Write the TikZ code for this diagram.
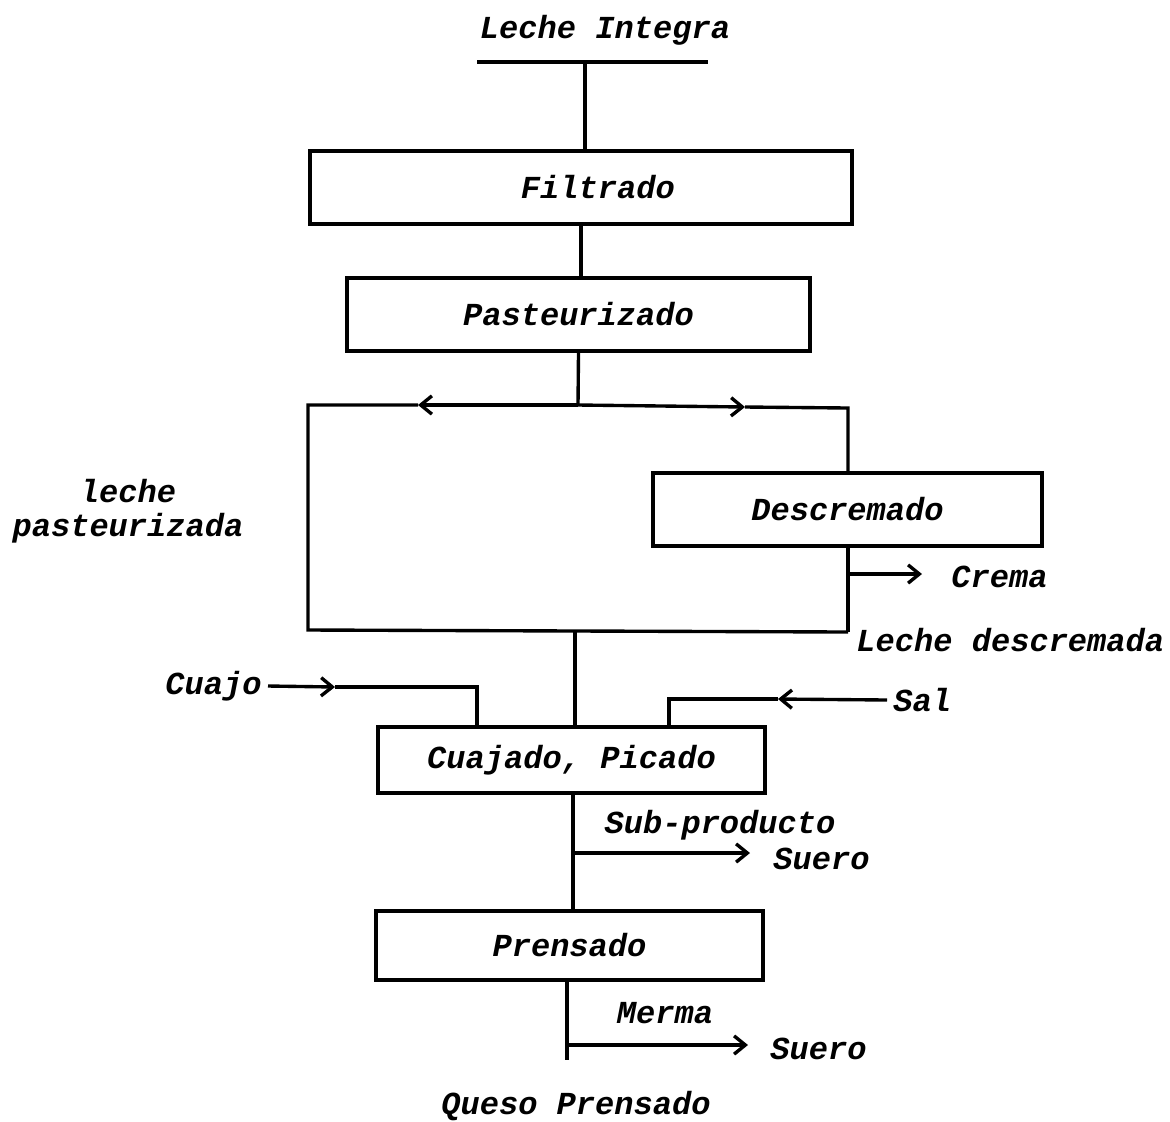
\documentclass[tikz,border=0pt]{standalone}
\usepackage{fontspec}
\setmonofont{Liberation Mono}
\usetikzlibrary{arrows.meta}

\tikzset{
  paso/.style={draw, line width=2.6pt, inner sep=0pt},
  flujo/.style={-{Straight Barb[length=8pt,width=13pt,line width=2.4pt]}},
}

\begin{document}
\begin{tikzpicture}[x=0.025cm, y=-0.025cm, line width=2.4pt,
    every node/.style={font=\ttfamily\bfseries\itshape\fontsize{22.8}{24}\selectfont}]
  \useasboundingbox (0,0) rectangle (1170,1121);

  % entrada
  \node (entrada) at (605,30) {Leche Integra};
  \coordinate (ti) at (477,62);
  \coordinate (td) at (708,62);
  \coordinate (tm) at (585,62);
  \draw (ti) -- (td);

  % etapas del proceso
  \node[paso, minimum width=13.55cm, minimum height=1.825cm] (filt) at (581,187.5) {\hspace*{24pt}Filtrado};
  \node[paso, minimum width=11.575cm, minimum height=1.825cm] (past) at (578.5,314.5) {Pasteurizado};
  \node[paso, minimum width=9.725cm, minimum height=1.825cm] (desc) at (847.5,509.5) {Descremado};
  \node[paso, minimum width=9.675cm, minimum height=1.65cm] (cuaj) at (571.5,760) {Cuajado, Picado};
  \node[paso, minimum width=9.675cm, minimum height=1.725cm] (pren) at (569.5,945.5) {Prensado};

  \draw (tm) -- (tm |- filt.north);
  \draw (filt.south) -- (filt.south |- past.north);

  % reparto de la leche pasteurizada
  \coordinate (split) at (578,405);
  \coordinate (ltip) at (418,405);
  \coordinate (lt) at (308,405);
  \coordinate (lb) at (308,630);
  \coordinate (rtip) at (745,407);
  \coordinate (rt) at (848,408);
  \coordinate (rb) at (848,632);
  \coordinate (join) at (575,631);
  \draw (past.south) -- (split);
  \draw[flujo] (split) -- (ltip);
  \draw (ltip) -- (lt) -- (lb) -- (rb);
  \draw[flujo] (split) -- (rtip);
  \draw (rtip) -- (rt) -- (rt |- desc.north);
  \draw (desc.south -| rt) -- (rb);

  \node[align=center] (lpast) at (128,511) {leche\\pasteurizada};

  % crema
  \coordinate (crema0) at (848,574);
  \coordinate (cremaflecha) at (922,574);
  \draw[flujo] (crema0) -- (cremaflecha);
  \node[anchor=west] (crema) at (945,577) {Crema};
  \node[anchor=west] (ldesc) at (850,640) {Leche descremada};

  % cuajo y sal
  \draw (join) -- (join |- cuaj.north);
  \node[anchor=east] (cuajo) at (268,686) {Cuajo};
  \coordinate (cuajotip) at (335,687);
  \coordinate (cuajoesq) at (477,687);
  \draw[flujo] (cuajo.east) -- (cuajotip);
  \draw (cuajotip) -- (cuajoesq) -- (cuajoesq |- cuaj.north);

  \node[anchor=west] (sal) at (887,700) {Sal};
  \coordinate (saltip) at (778,699);
  \coordinate (salesq) at (669,699);
  \draw[flujo] (sal.west) -- (saltip);
  \draw (saltip) -- (salesq) -- (salesq |- cuaj.north);

  % suero del cuajado
  \coordinate (c1) at (573,793);
  \draw (c1) -- (c1 |- pren.north);
  \node (subprod) at (720,825) {Sub-producto};
  \coordinate (suero1a) at (573,853);
  \coordinate (suero1b) at (750,853);
  \draw[flujo] (suero1a) -- (suero1b);
  \node[anchor=west] (suero1) at (767,859) {Suero};

  % prensado
  \coordinate (c2) at (567,980);
  \coordinate (fin) at (567,1060);
  \draw (c2) -- (fin);
  \node (merma) at (665,1013) {Merma};
  \coordinate (suero2a) at (567,1045);
  \coordinate (suero2b) at (748,1045);
  \draw[flujo] (suero2a) -- (suero2b);
  \node[anchor=west] (suero2) at (764,1049) {Suero};

  \node (queso) at (576,1106) {Queso Prensado};
\end{tikzpicture}
\end{document}
